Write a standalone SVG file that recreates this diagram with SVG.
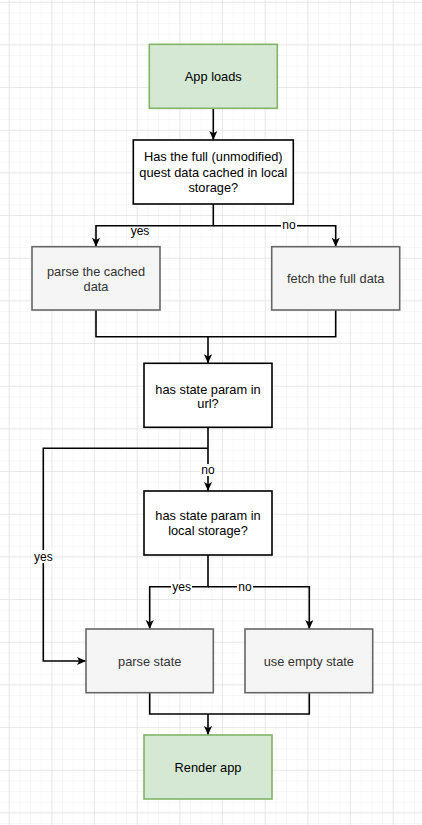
<svg xmlns="http://www.w3.org/2000/svg" width="422" height="825" viewBox="0 0 422 825">
<style>
.t{font-family:"Liberation Sans",Arial,sans-serif;font-size:12.8px;text-anchor:middle;fill:#000}
.g .t{fill:#333}
.lbl{font-family:"Liberation Sans",Arial,sans-serif;font-size:12px;text-anchor:middle;fill:#000}
.green{fill:#d5e8d4;stroke:#82b366;stroke-width:1.6}
.grey{fill:#f5f5f5;stroke:#666;stroke-width:1.6}
.white{fill:#fff;stroke:#000;stroke-width:1.6}
.edge{fill:none;stroke:#000;stroke-width:1.6}
.lblbg{fill:#fff}
</style>
<defs>
<pattern id="minor" patternUnits="userSpaceOnUse" x="8.7" y="1.7" width="10.667" height="10.667">
<path d="M0,0 H10.667 M0,0 V10.667" fill="none" stroke="#f0f0f0" stroke-width="1"/>
</pattern>
<pattern id="major" patternUnits="userSpaceOnUse" x="8.7" y="1.7" width="42.667" height="42.667">
<path d="M0,0 H42.667 M0,0 V42.667" fill="none" stroke="#dcdcdc" stroke-width="1"/>
</pattern>
<marker id="arr" viewBox="0 0 10 10" refX="10" refY="5" markerWidth="9" markerHeight="9" markerUnits="userSpaceOnUse" orient="auto">
<path d="M0,0.5 L10,5 L0,9.5 L2.5,5 Z" fill="#000"/>
</marker>
</defs>
<rect width="422" height="825" fill="#fff"/>
<rect width="422" height="825" fill="url(#minor)"/>
<rect width="422" height="825" fill="url(#major)"/>

<g id="connectors">
<path class="edge" d="M213.3,108.7 V140" marker-end="url(#arr)"/>
<path class="edge" d="M213.3,204 V225.7 H96 V246.7" marker-end="url(#arr)"/>
<path class="edge" d="M213.3,225.7 H335.7 V246.7" marker-end="url(#arr)"/>
<path class="edge" d="M96,310 V336.7 H335.7 V310"/>
<path class="edge" d="M208,336.7 V363.3" marker-end="url(#arr)"/>
<path class="edge" d="M208,427.3 V491" marker-end="url(#arr)"/>
<path class="edge" d="M208,448.3 H43.3 V661 H86" marker-end="url(#arr)"/>
<path class="edge" d="M208,555 V586.7 H149.7 V629" marker-end="url(#arr)"/>
<path class="edge" d="M208,586.7 H309.3 V629" marker-end="url(#arr)"/>
<path class="edge" d="M149.7,692.7 V714 H309.3 V692.7"/>
<path class="edge" d="M208,714 V735" marker-end="url(#arr)"/>
<text class="lbl" x="140" y="234.5">yes</text>
<rect class="lblbg" x="281" y="219" width="16" height="12"/>
<text class="lbl" x="289" y="229">no</text>
<rect class="lblbg" x="200" y="464" width="16" height="12"/>
<text class="lbl" x="208" y="474">no</text>
<rect class="lblbg" x="33" y="550" width="21" height="13"/>
<text class="lbl" x="43.3" y="560.5">yes</text>
<rect class="lblbg" x="171" y="580" width="21" height="13"/>
<text class="lbl" x="181.7" y="590.5">yes</text>
<rect class="lblbg" x="237" y="580" width="16" height="13"/>
<text class="lbl" x="245" y="590.5">no</text>
</g>

<g id="app-loads">
<rect class="green" x="149.3" y="44.3" width="128" height="64"/>
<text class="t" x="213.3" y="80.8">App loads</text>
</g>
<g id="cached-check">
<rect class="white" x="133.3" y="140" width="160" height="64"/>
<text class="t" x="213.3" y="161.3">Has the full (unmodified)</text>
<text class="t" x="213.3" y="176.8">quest data cached in local</text>
<text class="t" x="213.3" y="192">storage?</text>
</g>
<g id="parse-cached" class="g">
<rect class="grey" x="32" y="246.7" width="128" height="63.3"/>
<text class="t" x="96" y="276.3">parse the cached</text>
<text class="t" x="96" y="290.7">data</text>
</g>
<g id="fetch-full" class="g">
<rect class="grey" x="271.7" y="246.7" width="128" height="63.3"/>
<text class="t" x="335.7" y="283">fetch the full data</text>
</g>
<g id="url-check">
<rect class="white" x="144" y="363.3" width="128" height="64"/>
<text class="t" x="208" y="393.6">has state param in</text>
<text class="t" x="208" y="408">url?</text>
</g>
<g id="storage-check">
<rect class="white" x="144" y="491" width="128" height="64"/>
<text class="t" x="208" y="519.6">has state param in</text>
<text class="t" x="208" y="535.2">local storage?</text>
</g>
<g id="parse-state" class="g">
<rect class="grey" x="86" y="629" width="127.3" height="63.7"/>
<text class="t" x="149.7" y="665.5">parse state</text>
</g>
<g id="empty-state" class="g">
<rect class="grey" x="245" y="629" width="127.7" height="63.7"/>
<text class="t" x="308.8" y="665.5">use empty state</text>
</g>
<g id="render-app">
<rect class="green" x="144" y="735" width="128" height="64"/>
<text class="t" x="208" y="771.5">Render app</text>
</g>
</svg>
